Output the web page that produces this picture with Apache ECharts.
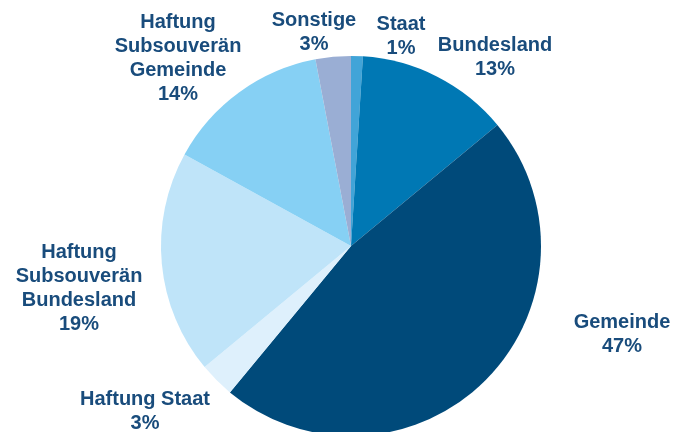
<!DOCTYPE html>
<html>
<head>
<meta charset="utf-8">
<script src="https://cdn.jsdelivr.net/npm/echarts@6/dist/echarts.min.js"></script>
<style>
  html, body { margin: 0; padding: 0; background: #fff; }
  #chart { width: 676px; height: 432px; }
</style>
</head>
<body>
<div id="chart"></div>
<script>
// slices, clockwise from 12 o'clock
const names = ['Staat', 'Bundesland', 'Gemeinde', 'Haftung Staat', 'Haftung\nSubsouverän\nBundesland', 'Haftung\nSubsouverän\nGemeinde', 'Sonstige']
const values = [1, 13, 47, 3, 19, 14, 3]
const colors = ['#41a4d8', '#0078b4', '#004a7a', '#def0fc', '#bfe4f9', '#86d0f4', '#9aaed4']

// label anchor points (centre of each text block)
const labelPos = [
    [401, 36], [495, 57], [622, 334], [145, 411], [79, 288], [178, 58], [314, 32]
]

const chart = echarts.init(document.getElementById('chart'))

chart.setOption({
    animation: false,
    series: [
        {
            type: 'pie',
            center: [351, 246],
            radius: 190,
            startAngle: 90,
            clockwise: true,
            data: names.map((n, i) => ({
                name: n,
                value: values[i],
                itemStyle: { color: colors[i] }
            })),
            label: {
                show: true,
                position: 'outside',
                formatter: '{b}\n{d}%',
                color: '#194c7c',
                fontFamily: 'Liberation Sans, Arial, sans-serif',
                fontWeight: 'bold',
                fontSize: 20,
                lineHeight: 24,
                align: 'center',
                overflow: 'none'
            },
            labelLine: { show: false },
            labelLayout: (params) => ({
                x: labelPos[params.dataIndex][0],
                y: labelPos[params.dataIndex][1],
                align: 'center',
                verticalAlign: 'middle'
            })
        }
    ]
})
</script>
</body>
</html>
